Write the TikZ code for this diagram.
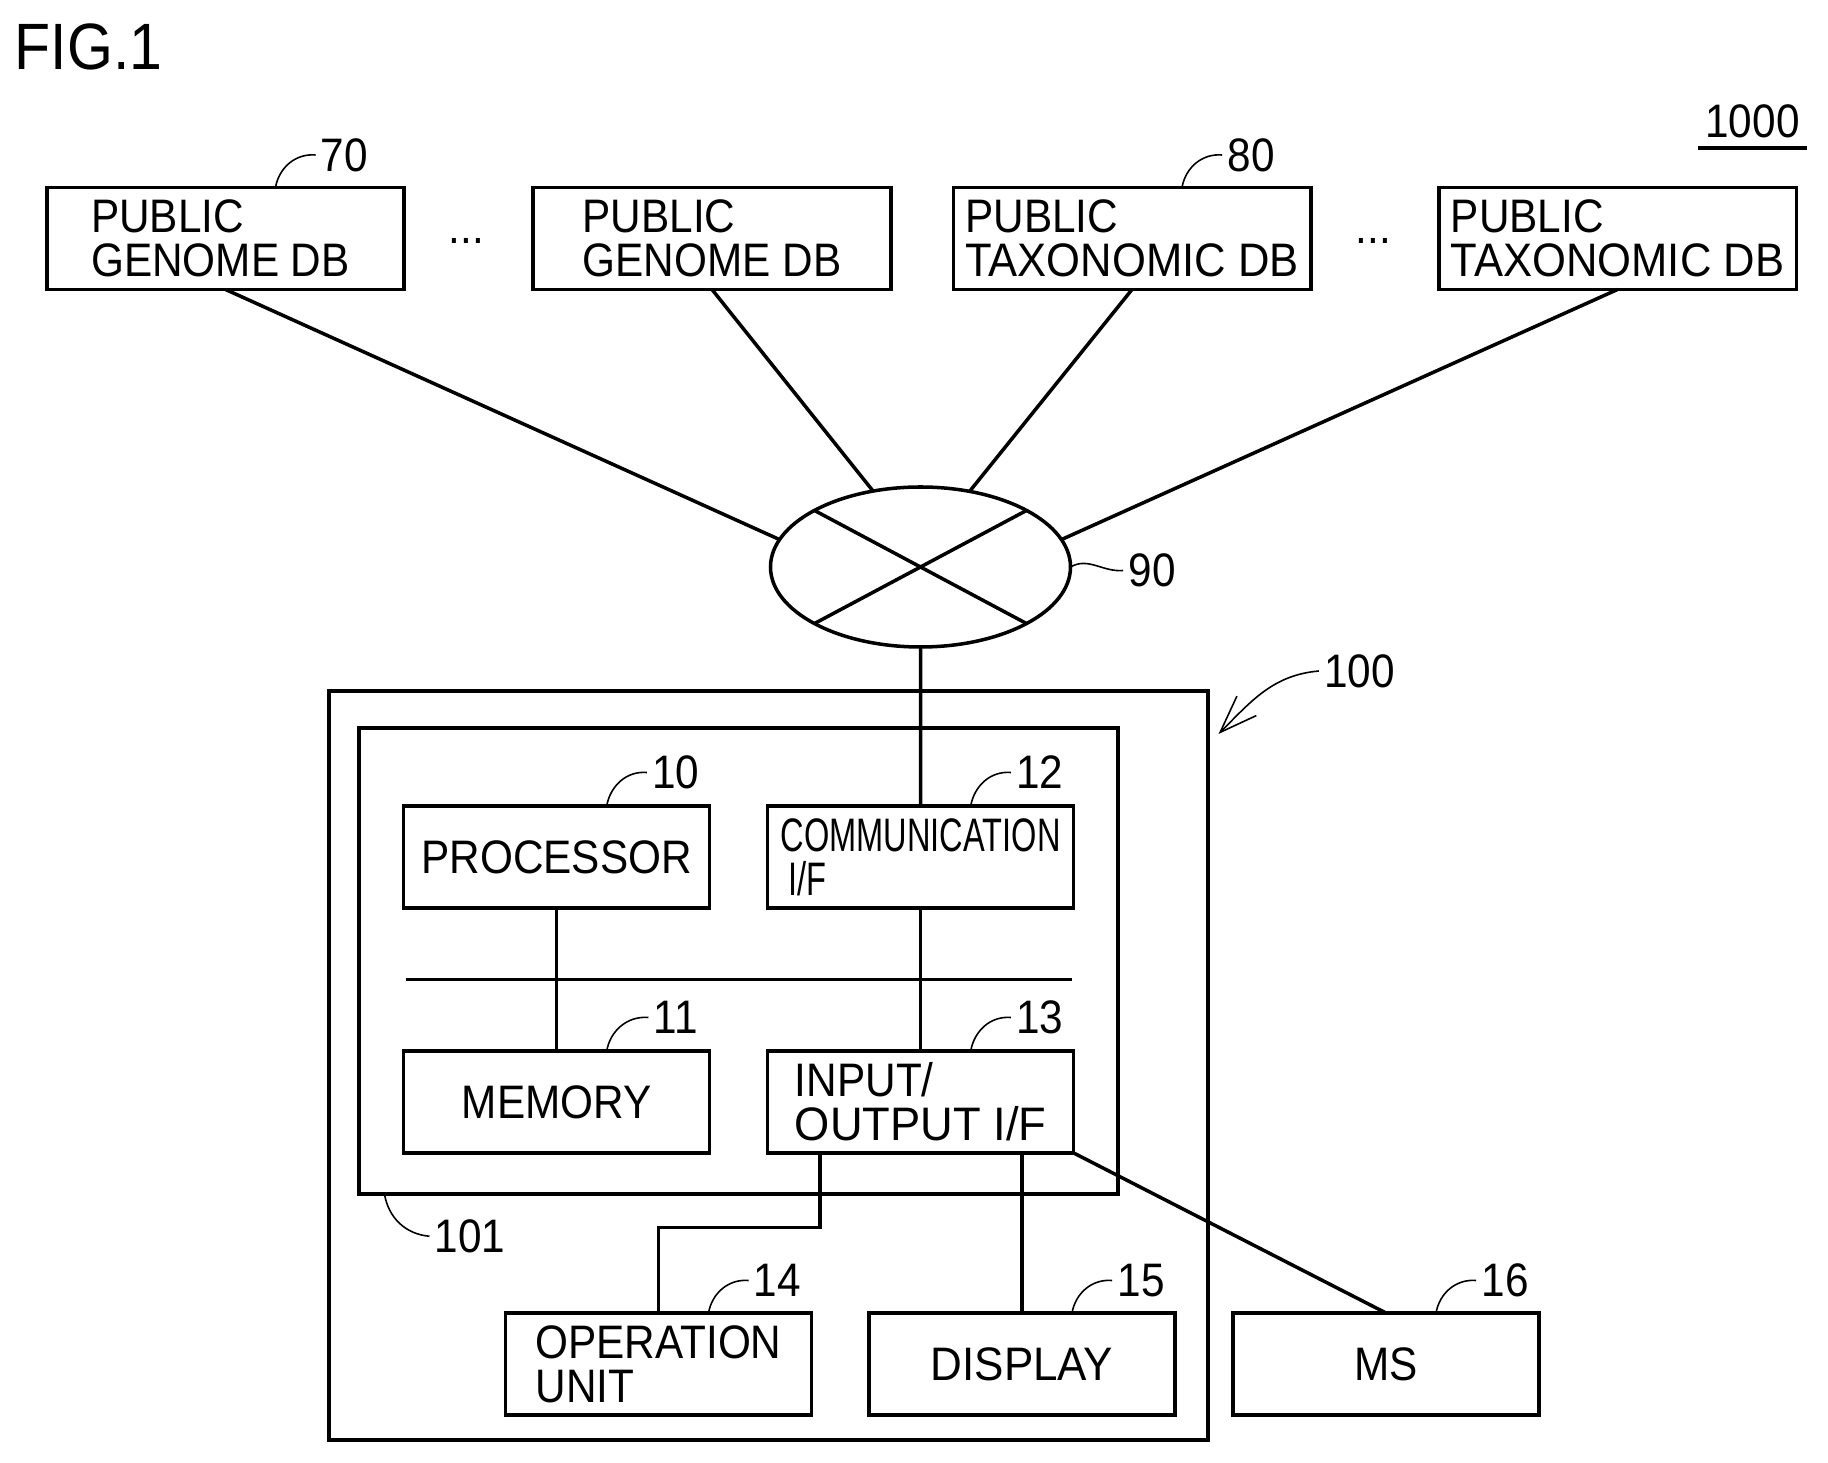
\documentclass[tikz,border=0pt]{standalone}
\usepackage{fontspec}
\setmainfont[FakeStretch=0.9]{Liberation Sans}
\usepackage{tikz}
\usetikzlibrary{positioning,calc,shapes.geometric,arrows.meta}

\newcommand{\boxfont}{\fontsize{26.75}{25}\selectfont}
\newcommand{\titlefont}{\fontsize{37.3}{40}\selectfont}

\tikzset{
	dbbox/.style={draw, line width=2pt, outer sep=0pt, align=left, font=\boxfont, minimum width=7.15cm, minimum height=2.04cm},
	unitbox/.style={draw, line width=2pt, outer sep=0pt, align=left, font=\boxfont, minimum width=6.12cm, minimum height=2.04cm},
	frame/.style={draw, line width=2pt, outer sep=0pt},
	num/.style={font=\boxfont, inner sep=3pt, outer sep=0pt},
	wire/.style={line width=2pt},
	lead/.style={line width=0.9pt},
}

\begin{document}
\begin{tikzpicture}
	\useasboundingbox (0,0) rectangle (36.56,29.26);
	
	\node[font=\titlefont, inner sep=0pt] (fig) at (1.77,28.33) {FIG.1};
	\node[num, minimum width=2.17cm, minimum height=1.08cm, inner sep=0pt] (n1000) at (35.05,26.84) {1000};
	\draw[wire] (n1000.south west)--(n1000.south east);
	
	\node[dbbox] (g1) at (4.51,24.49) {PUBLIC\\GENOME DB\hspace*{0.2cm}};
	\node[dbbox, shift={(9.73,0)}] (g2) at (g1) {PUBLIC\\GENOME DB};
	\node[dbbox, shift={(8.4,0)}] (t1) at (g2) {PUBLIC\\\scalebox{1.03}[1]{TAXONOMIC DB}};
	\node[dbbox, shift={(9.71,0)}] (t2) at (t1) {PUBLIC\\\scalebox{1.03}[1]{TAXONOMIC DB}};
	\node[num, anchor=base, shift={(1.24,-0.1)}] (d1) at (g1.east) {...};
	\node[num, anchor=base, shift={(1.25,-0.1)}] (d2) at (t1.east) {...};
	
	\node[draw, ellipse, line width=2pt, outer sep=0pt, minimum width=6cm, minimum height=3.2cm] (net) at (18.41,17.92) {};
	\draw[wire] (net.north west)--(net.south east);
	\draw[wire] (net.north east)--(net.south west);
	
	\node[frame, minimum width=17.58cm, minimum height=14.98cm] (outer) at (15.37,7.95) {};
	\node[frame, minimum width=15.18cm, minimum height=9.33cm] (inner) at (14.77,10.04) {};
	
	\node[unitbox] (proc) at (11.134,12.12) {PROCESSOR};
	\node[unitbox, shift={(7.28,0)}] (comm) at (proc) {\scalebox{0.77}[1]{COMMUNICATION}\\\hspace*{0.15cm}\scalebox{0.77}[1]{I/F}};
	\node[unitbox, shift={(0,-4.9)}] (mem) at (proc) {MEMORY};
	\node[unitbox, shift={(0,-4.9)}] (io) at (comm) {INPUT/\\\scalebox{1.07}[1]{OUTPUT I/F}};
	
	\node[unitbox] (op) at (13.17,1.98) {OPERATION\\UNIT};
	\node[unitbox] (disp) at (20.44,1.98) {\scalebox{1.04}[1]{DISPLAY}};
	\node[unitbox] (ms) at (27.72,1.98) {MS};
	
	\coordinate (busl) at (8.12,9.67);
	\coordinate (busr) at (21.43,9.67);
	\coordinate (ioa) at ($(io.south)+(-2.01,0)$);
	\coordinate (opb) at ($(op.north)+(0,1.71)$);
	\coordinate (a100) at ($(outer.north east)+(0.21,-0.86)$);
	
	\draw[wire] (g1.south)--(net.169);
	\draw[wire] (g2.south)--(net.122.5);
	\draw[wire] (t1.south)--(net.57.5);
	\draw[wire] (t2.south)--(net.11);
	\draw[wire] (net.south)--(comm.north);
	
	\draw[wire] (busl)--(busr);
	\draw[wire] (proc.south)--(mem.north);
	\draw[wire] (comm.south)--(io.north);
	\draw[wire] (ioa) |- (opb) -- (op.north);
	\draw[wire] (disp.north |- io.south)--(disp.north);
	\draw[wire] (io.south east)--(ms.north);
	
	\node[num, shift={(2.38,0.65)}] (n70) at (g1.north) {70};
	\node[num, shift={(2.38,0.65)}] (n80) at (t1.north) {80};
	\node[num, shift={(2.38,0.67)}] (n10) at (proc.north) {10};
	\node[num, shift={(2.38,0.67)}] (n12) at (comm.north) {12};
	\node[num, shift={(2.38,0.67)}] (n11) at (mem.north) {11};
	\node[num, shift={(2.38,0.67)}] (n13) at (io.north) {13};
	\node[num, shift={(2.38,0.65)}] (n14) at (op.north) {14};
	\node[num, shift={(2.38,0.65)}] (n15) at (disp.north) {15};
	\node[num, shift={(2.38,0.65)}] (n16) at (ms.north) {16};
	\node[num, shift={(1.63,-0.07)}] (n90) at (net.east) {90};
	\node[num, shift={(2.22,-0.84)}] (n101) at (inner.south west) {101};
	\node[num, shift={(3.03,0.40)}] (n100) at (outer.north east) {100};
	
	\draw[lead] ($(g1.north)+(1,0)$) to[out=80,in=175] (n70.west);
	\draw[lead] ($(t1.north)+(1,0)$) to[out=80,in=175] (n80.west);
	\draw[lead] ($(proc.north)+(1,0)$) to[out=80,in=175] (n10.west);
	\draw[lead] ($(comm.north)+(1,0)$) to[out=80,in=175] (n12.west);
	\draw[lead] ($(mem.north)+(1,0)$) to[out=80,in=175] (n11.west);
	\draw[lead] ($(io.north)+(1,0)$) to[out=80,in=175] (n13.west);
	\draw[lead] ($(op.north)+(1,0)$) to[out=80,in=175] (n14.west);
	\draw[lead] ($(disp.north)+(1,0)$) to[out=80,in=175] (n15.west);
	\draw[lead] ($(ms.north)+(1,0)$) to[out=80,in=175] (n16.west);
	\draw[lead] (net.east) to[out=30,in=185] (n90.west);
	\draw[lead] ($(inner.south west)+(0.51,0)$) to[out=-80,in=175] (n101.west);
	\draw[lead,-{Straight Barb[length=0.75cm,width=0.55cm]}] (n100.west) to[out=185,in=45] (a100);
\end{tikzpicture}
\end{document}
